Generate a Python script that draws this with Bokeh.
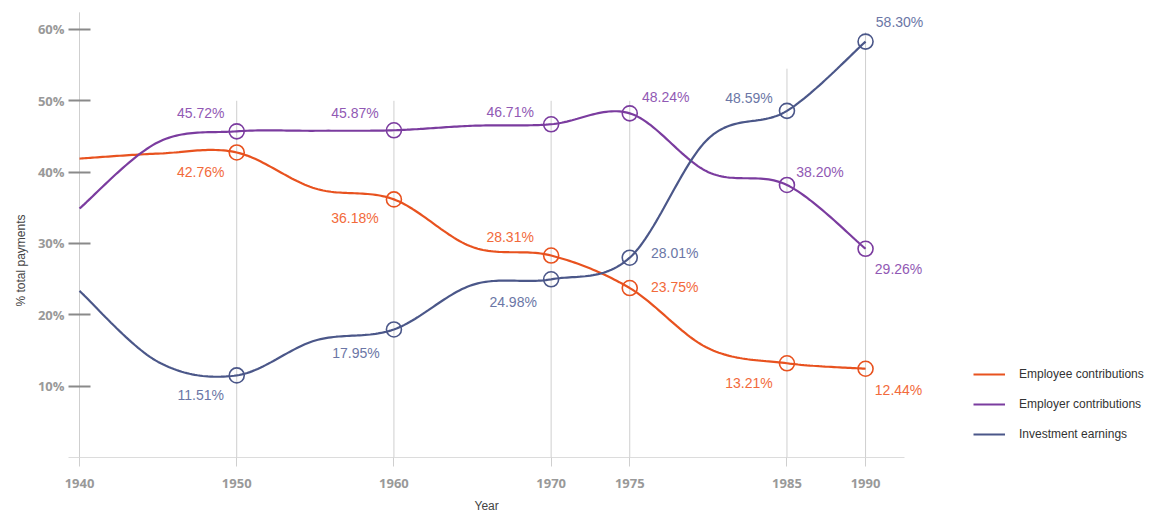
import numpy as np
from bokeh.plotting import figure
from bokeh.models import (ColumnDataSource, Range1d, FixedTicker, PrintfTickFormatter,
                          Legend, LegendItem, Title)
from bokeh.core.properties import value
from bokeh.embed import file_html
from bokeh.resources import INLINE

# ---------------- data ----------------
years = [1940, 1945, 1950, 1955, 1960, 1965, 1970, 1975, 1980, 1985, 1990]
employee = [41.9, 42.6, 42.76, 37.7, 36.18, 29.5, 28.31, 23.75, 15.3, 13.21, 12.44]
employer = [34.9, 44.2, 45.72, 45.8, 45.87, 46.5, 46.71, 48.24, 40.0, 38.20, 29.26]
investment = [23.35, 13.4, 11.51, 16.4, 17.95, 24.2, 24.98, 28.01, 44.7, 48.59, 58.30]
marked_years = [1950, 1960, 1970, 1975, 1985, 1990]
series_names = ["Employee contributions", "Employer contributions", "Investment earnings"]
tick_years = [1940, 1950, 1960, 1970, 1975, 1985, 1990]
y_ticks = [10, 20, 30, 40, 50, 60]
x_title = "Year"
y_title = "% total payments"

# ---------------- styles ----------------
line_colors = ["#e8521f", "#7b3c9f", "#4b5789"]
label_colors = ["#f26a3b", "#9159b4", "#6b76a6"]
# label offsets (px) for each marked point, per series
label_dx = [[-36, -39, -41, 45, -38, 33],
            [-36, -39, -41, 36, 33, 33],
            [-36, -38, -38, 45, -38, 34]]
label_dy = [[20, 19, -19, -1, 20, 21],
            [-18, -17, -12, -16, -13, 20],
            [20, 24, 23, -5, -13, -20]]
grid_top = [62.4, 50, 50, 50, 50, 54.5, 59.6]
x_axis_extent = (1939.30, 1992.48)


def catmull_rom(xs, ys, n=30):
    xs = np.asarray(xs, float)
    ys = np.asarray(ys, float)
    px = np.concatenate([[xs[0]], xs, [xs[-1]]])
    py = np.concatenate([[ys[0]], ys, [ys[-1]]])
    outx, outy = [], []
    t = np.linspace(0, 1, n, endpoint=False)
    h00 = 2 * t**3 - 3 * t**2 + 1
    h10 = t**3 - 2 * t**2 + t
    h01 = -2 * t**3 + 3 * t**2
    h11 = t**3 - t**2
    for i in range(1, len(px) - 2):
        for arr, out in ((px, outx), (py, outy)):
            p0, p1, p2, p3 = arr[i - 1], arr[i], arr[i + 1], arr[i + 2]
            m1 = (p2 - p0) / 2.0
            m2 = (p3 - p1) / 2.0
            out.extend(h00 * p1 + h10 * m1 + h01 * p2 + h11 * m2)
    outx.append(xs[-1])
    outy.append(ys[-1])
    return outx, outy


p = figure(width=1157, height=519, output_backend="svg", toolbar_location=None,
           x_range=Range1d(1939.30, 2008.57), y_range=Range1d(0, 64.06),
           min_border_left=68, min_border_right=0, min_border_top=0,
           min_border_bottom=62)
p.outline_line_color = None
p.background_fill_color = "white"
p.border_fill_color = "white"
p.xgrid.visible = False
p.ygrid.visible = False

# vertical reference lines
p.segment(x0=tick_years, x1=tick_years, y0=[0] * len(tick_years), y1=grid_top,
          line_color="#cfcfcf", line_width=1)

# axes
xa = p.xaxis[0]
xa.bounds = x_axis_extent
xa.ticker = FixedTicker(ticks=tick_years)
xa.minor_tick_line_color = None
xa.axis_line_color = "#dcdcdc"
xa.major_tick_line_color = "#cfcfcf"
xa.major_tick_out = 9
xa.major_tick_in = 0
xa.major_label_text_font = "Open Sans"
xa.major_label_text_font_style = "bold"
xa.major_label_text_font_size = "13px"
xa.major_label_text_color = "#999999"
xa.major_label_standoff = 12

ya = p.yaxis[0]
ya.ticker = FixedTicker(ticks=y_ticks)
ya.formatter = PrintfTickFormatter(format="%d%%")
ya.minor_tick_line_color = None
ya.axis_line_color = None
ya.major_tick_line_color = "#8a8a8a"
ya.major_tick_line_width = 2
ya.major_tick_in = 22
ya.major_tick_out = 0
ya.major_label_standoff = 4
ya.major_label_text_font = "Open Sans"
ya.major_label_text_font_style = "bold"
ya.major_label_text_font_size = "13px"
ya.major_label_text_color = "#999999"

xt = Title(text=x_title, align="left", offset=406, standoff=12,
           text_font="Liberation Sans", text_font_style="normal",
           text_font_size="12px", text_color="#444444")
p.add_layout(xt, "below")
yt = Title(text=y_title, align="left", offset=151, standoff=14,
           text_font="Liberation Sans", text_font_style="normal",
           text_font_size="12px", text_color="#444444")
p.add_layout(yt, "left")

legend_items = []
for k, vals in enumerate([employee, employer, investment]):
    cx, cy = catmull_rom(years, vals)
    r = p.line(cx, cy, line_color=line_colors[k], line_width=2.2)
    legend_items.append(LegendItem(label=series_names[k], renderers=[r]))
    mx = [y for y in years if y in marked_years]
    my = [v for y, v in zip(years, vals) if y in marked_years]
    src = ColumnDataSource(dict(x=mx, y=my,
                                t=["%.2f%%" % v for v in my],
                                dx=label_dx[k], dy=label_dy[k]))
    p.scatter("x", "y", source=src, size=15, fill_alpha=0,
              line_color=line_colors[k], line_width=1.6)
    p.text("x", "y", text="t", source=src, x_offset="dx", y_offset="dy",
           text_align="center", text_baseline="middle",
           text_font_size="14px", text_font=value("Liberation Sans"),
           text_color=label_colors[k])

legend = Legend(items=legend_items, location=(905, 13),
                border_line_color=None, background_fill_alpha=0,
                glyph_width=32, glyph_height=20, label_height=20,
                label_standoff=14, spacing=10, padding=10, margin=0,
                label_text_font="Liberation Sans", label_text_font_size="12px",
                label_text_color="#333333")
p.add_layout(legend, "center")

open("out.html", "w").write(file_html(p, INLINE))
